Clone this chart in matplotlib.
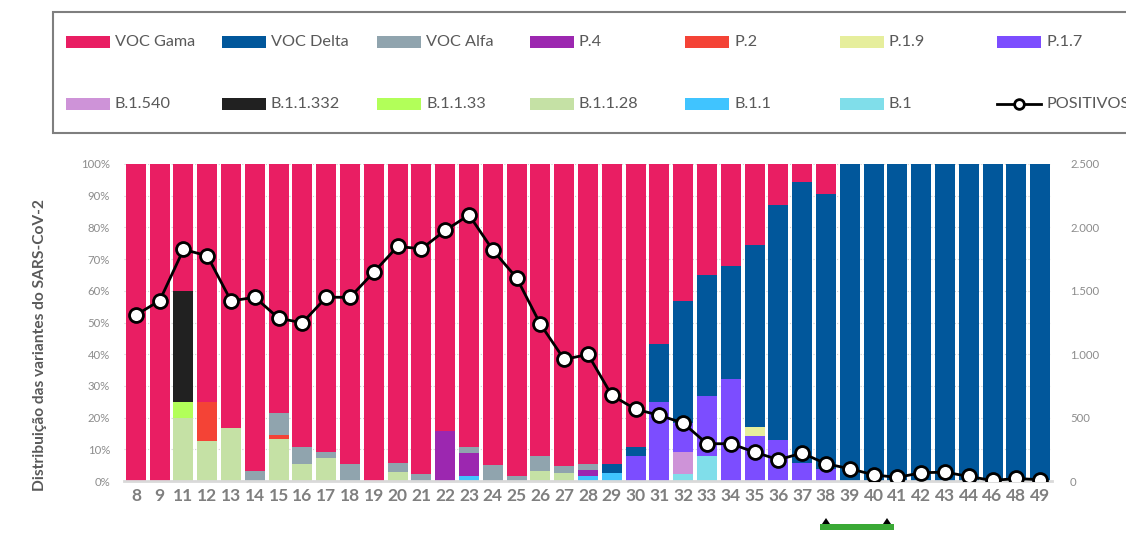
import matplotlib
matplotlib.use("Agg")
import matplotlib.pyplot as plt
from matplotlib.patches import Rectangle, Polygon
from matplotlib.lines import Line2D
from matplotlib.ticker import FuncFormatter, MultipleLocator

plt.rcParams['font.family'] = ['Lato', 'DejaVu Sans']

semanas = ['8', '9', '11', '12', '13', '14', '15', '16', '17', '18', '19', '20', '21',
           '22', '23', '24', '25', '26', '27', '28', '29', '30', '31', '32', '33', '34',
           '35', '36', '37', '38', '39', '40', '41', '42', '43', '44', '46', '48', '49']

# % por variante em cada semana (ordem de empilhamento: de baixo para cima)
b_1 =        [0, 0, 0, 0, 0, 0, 0, 0, 0, 0, 0, 0, 0, 0, 0, 0, 0, 0, 0, 0, 0, 0, 0, 2.2, 7.9, 0, 0, 0, 0, 0, 0, 0, 0, 0, 0, 0, 0, 0, 0]
b_1_1 =      [0, 0, 0, 0, 0, 0, 0, 0, 0, 0, 0, 0, 0, 0, 1.6, 0, 0, 0, 0, 1.6, 2.6, 0, 0, 0, 0, 0, 0, 0, 0, 0, 0, 0, 0, 0, 0, 0, 0, 0, 0]
b_1_1_28 =   [0, 0, 20, 12.5, 16.7, 0, 13.3, 5.3, 7.4, 0, 0, 2.9, 0, 0, 0, 0, 0, 3.0, 2.4, 0, 0, 0, 0, 0, 0, 0, 0, 0, 0, 0, 0, 0, 0, 0, 0, 0, 0, 0, 0]
b_1_1_33 =   [0, 0, 5, 0, 0, 0, 0, 0, 0, 0, 0, 0, 0, 0, 0, 0, 0, 0, 0, 0, 0, 0, 0, 0, 0, 0, 0, 0, 0, 0, 0, 0, 0, 0, 0, 0, 0, 0, 0]
b_1_1_332 =  [0, 0, 35, 0, 0, 0, 0, 0, 0, 0, 0, 0, 0, 0, 0, 0, 0, 0, 0, 0, 0, 0, 0, 0, 0, 0, 0, 0, 0, 0, 0, 0, 0, 0, 0, 0, 0, 0, 0]
b_1_540 =    [0, 0, 0, 0, 0, 0, 0, 0, 0, 0, 0, 0, 0, 0, 0, 0, 0, 0, 0, 0, 0, 0, 0, 6.8, 0, 0, 0, 0, 0, 0, 0, 0, 0, 0, 0, 0, 0, 0, 0]
p_1_7 =      [0, 0, 0, 0, 0, 0, 0, 0, 0, 0, 0, 0, 0, 0, 0, 0, 0, 0, 0, 0, 0, 7.9, 25.0, 9.2, 19.0, 32.1, 14.1, 12.9, 5.8, 3.7, 0, 0, 0, 0, 0, 0, 0, 0, 0]
p_1_9 =      [0, 0, 0, 0, 0, 0, 0, 0, 0, 0, 0, 0, 0, 0, 0, 0, 0, 0, 0, 0, 0, 0, 0, 0, 0, 0, 2.9, 0, 0, 0, 0, 0, 0, 0, 0, 0, 0, 0, 0]
p_2 =        [0, 0, 0, 12.5, 0, 0, 1.3, 0, 0, 0, 0, 0, 0, 0, 0, 0, 0, 0, 0, 0, 0, 0, 0, 0, 0, 0, 0, 0, 0, 0, 0, 0, 0, 0, 0, 0, 0, 0, 0]
p_4 =        [0, 0, 0, 0, 0, 0, 0, 0, 0, 0, 0, 0, 0, 15.8, 7.1, 0, 0, 0, 0, 1.9, 0, 0, 0, 0, 0, 0, 0, 0, 0, 0, 0, 0, 0, 0, 0, 0, 0, 0, 0]
voc_alfa =   [0, 0, 0, 0, 0, 3.0, 6.7, 5.3, 1.9, 5.4, 0, 2.7, 2.3, 0, 1.9, 5.1, 1.6, 5.0, 2.4, 1.9, 0, 0, 0, 0, 0, 0, 0, 0, 0, 0, 0, 0, 0, 0, 0, 0, 0, 0, 0]
voc_delta =  [0, 0, 0, 0, 0, 0, 0, 0, 0, 0, 0, 0, 0, 0, 0, 0, 0, 0, 0, 0, 2.9, 2.7, 18.1, 38.5, 38.0, 35.7, 57.4, 74.3, 88.4, 86.8, 100, 100, 100, 100, 100, 100, 100, 100, 100]
voc_gama =   [100, 100, 40, 75, 83.3, 97, 78.7, 89.4, 90.7, 94.6, 100, 94.4, 97.7, 84.2, 89.4, 94.9, 98.4, 92, 95.2, 94.6, 94.5, 89.4, 56.9, 43.3, 35.1, 32.2, 25.6, 12.8, 5.8, 9.5, 0, 0, 0, 0, 0, 0, 0, 0, 0]

positivos = [1309, 1422, 1826, 1776, 1420, 1449, 1283, 1248, 1449, 1449, 1647, 1850, 1831,
             1976, 2098, 1821, 1602, 1236, 959, 998, 676, 566, 518, 457, 294, 294,
             228, 168, 220, 136, 97, 49, 28, 65, 70, 36, 4, 20, 10]

series = [
    ('B.1', b_1, '#80DEEA'),
    ('B.1.1', b_1_1, '#40C4FF'),
    ('B.1.1.28', b_1_1_28, '#C5E1A5'),
    ('B.1.1.33', b_1_1_33, '#B2FF59'),
    ('B.1.1.332', b_1_1_332, '#212121'),
    ('B.1.540', b_1_540, '#CE93D8'),
    ('P.1.7', p_1_7, '#7C4DFF'),
    ('P.1.9', p_1_9, '#E6EE9C'),
    ('P.2', p_2, '#F44336'),
    ('P.4', p_4, '#9C27B0'),
    ('VOC Alfa', voc_alfa, '#90A4AE'),
    ('VOC Delta', voc_delta, '#01579B'),
    ('VOC Gama', voc_gama, '#E91E63'),
]

W, H = 1126, 544
fig = plt.figure(figsize=(W / 100, H / 100), dpi=100)
ax = fig.add_axes([124 / W, 1 - 481 / H, (1052 - 124) / W, (481 - 164) / H])

x = list(range(len(semanas)))
bottom = [0.0] * len(semanas)
for nome, vals, cor in series:
    ax.bar(x, vals, width=0.84, bottom=bottom, color=cor, linewidth=0, zorder=2)
    bottom = [b + v for b, v in zip(bottom, vals)]

ax.set_xlim(-0.5, len(semanas) - 0.5)
ax.set_ylim(0, 100)
ax.yaxis.set_major_locator(MultipleLocator(10))
ax.yaxis.set_major_formatter(FuncFormatter(lambda v, p: f"{v:.0f}%"))
ax.set_xticks(x)
ax.set_xticklabels(semanas, fontsize=12.5, fontweight='bold', color='#7f7f7f')
ax.tick_params(axis='x', length=0, pad=5)
ax.tick_params(axis='y', length=0, pad=10, labelsize=8.2, labelcolor='#8c8c8c')
ax.yaxis.grid(True, linestyle=':', color='#d0d0d0', linewidth=0.8, zorder=0)
ax.set_axisbelow(True)
for s in ['top', 'left', 'right']:
    ax.spines[s].set_visible(False)
ax.spines['bottom'].set_color('#d9d9d9')
ax.spines['bottom'].set_linewidth(2)
ax.set_ylabel('Distribuição das variantes do SARS-CoV-2', fontsize=11.2,
              fontweight='bold', color='#595959')
ax.yaxis.set_label_coords(-77 / (1052 - 124), 0.43)

ax2 = ax.twinx()
ax2.plot(x, positivos, color='black', linewidth=2, marker='o', markersize=10,
         markerfacecolor='white', markeredgecolor='black', markeredgewidth=2, zorder=5)
ax2.set_ylim(0, 2500)
ax2.yaxis.set_major_locator(MultipleLocator(500))
ax2.yaxis.set_major_formatter(FuncFormatter(lambda v, p: f"{v:,.0f}".replace(',', '.')))
ax2.tick_params(axis='y', length=0, pad=13, labelsize=8.2, labelcolor='#8c8c8c')
for s in ['top', 'left', 'right', 'bottom']:
    ax2.spines[s].set_visible(False)

# legenda desenhada à mão (colunas de largura igual, como no Excel)
fig.add_artist(Rectangle((53 / W, 1 - 133 / H), 1.0, (133 - 12) / H, transform=fig.transFigure,
                         facecolor='white', edgecolor='#7f7f7f', linewidth=1.5, zorder=0))
ordem = [12, 11, 10, 9, 8, 7, 6, 5, 4, 3, 2, 1, 0]
col_x = [66, 222, 377, 530, 685, 840, 997]
row_y = [42, 104]
for k, idx in enumerate(ordem + [None]):
    cx = col_x[k % 7]
    cy = row_y[k // 7]
    if idx is None:
        fig.add_artist(Line2D([cx / W, (cx + 44) / W], [1 - cy / H, 1 - cy / H], transform=fig.transFigure,
                              color='black', linewidth=2, marker=None))
        fig.add_artist(Line2D([(cx + 22) / W], [1 - cy / H], transform=fig.transFigure,
                              marker='o', markersize=7, markerfacecolor='white',
                              markeredgecolor='black', markeredgewidth=2))
        nome = 'POSITIVOS'
    else:
        nome, _, cor = series[idx]
        fig.add_artist(Rectangle((cx / W, 1 - (cy + 5.5) / H), 44 / W, 11 / H,
                                 transform=fig.transFigure, facecolor=cor, linewidth=0))
    fig.text((cx + 49) / W, 1 - cy / H, nome, fontsize=11.7, color='#595959', va='center', ha='left')

# pequeno logotipo no rodapé
fig.add_artist(Rectangle((820 / W, 1 - 530 / H), 74 / W, 6 / H, transform=fig.transFigure,
                         facecolor='#3aa935', linewidth=0))
for tx in (826, 887):
    fig.add_artist(Polygon([((tx - 4) / W, 1 - 524 / H), ((tx + 4) / W, 1 - 524 / H), (tx / W, 1 - 518 / H)],
                           closed=True, transform=fig.transFigure, facecolor='black', linewidth=0))

fig.savefig('out.png', dpi=100)
